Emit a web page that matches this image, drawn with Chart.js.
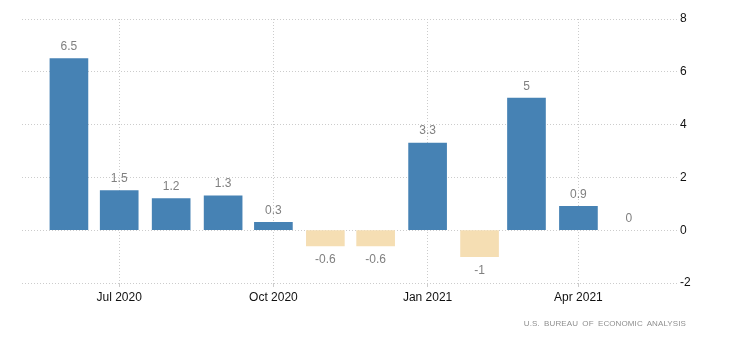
<!DOCTYPE html>
<html>
<head>
<meta charset="utf-8">
<script src="https://cdn.jsdelivr.net/npm/chart.js@4.4.1/dist/chart.umd.min.js"></script>
<style>
    html, body { margin: 0; padding: 0; background: #fff; }
    #wrap { position: relative; width: 730px; height: 344px; }
    #source {
        position: absolute;
        right: 44px;
        top: 319px;
        font-family: 'Liberation Sans', Arial, sans-serif;
        font-size: 8px;
        letter-spacing: 0.1px;
        word-spacing: 2px;
        color: #8f8f8f;
        white-space: nowrap;
    }
</style>
</head>
<body>
<div id="wrap">
    <canvas id="chart" width="730" height="344"></canvas>
    <div id="source">U.S. BUREAU OF ECONOMIC ANALYSIS</div>
</div>
<script>
'use strict';

// months (first day) and monthly values
const months = ['2020-06', '2020-07', '2020-08', '2020-09', '2020-10', '2020-11',
    '2020-12', '2021-01', '2021-02', '2021-03', '2021-04', '2021-05'];
const values = [6.5, 1.5, 1.2, 1.3, 0.3, -0.6, -0.6, 3.3, -1, 5, 0.9, 0];

const tickMonths = ['2020-07', '2020-10', '2021-01', '2021-04'];
const tickLabels = ['Jul 2020', 'Oct 2020', 'Jan 2021', 'Apr 2021'];

const yTicks = [-2, 0, 2, 4, 6, 8];

function dayOf(str) {
    const [y, m] = str.split('-').map(Number);
    return Date.UTC(y, m - 1, 1) / 86400000;
}

const POS_COLOR = '#4682B4';
const NEG_COLOR = '#F5DEB3';
const GRID_COLOR = '#cccccc';

const valueLabels = {
    id: 'valueLabels',
    afterDatasetsDraw(chart) {
        const { ctx } = chart;
        const meta = chart.getDatasetMeta(0);
        ctx.save();
        ctx.font = '12px "Liberation Sans", Arial, sans-serif';
        ctx.fillStyle = '#808080';
        ctx.textAlign = 'center';
        ctx.textBaseline = 'middle';
        meta.data.forEach((bar, i) => {
            const v = values[i];
            const y = v < 0 ? bar.y + 14 : bar.y - 12;
            ctx.fillText(String(v), bar.x, y);
        });
        ctx.restore();
    }
};

const points = months.map((m, i) => ({ x: dayOf(m), y: values[i] }));
const tickDays = tickMonths.map(dayOf);

function barColor(ctx) {
    const v = ctx.parsed ? ctx.parsed.y : 0;
    if (v === 0) return 'rgba(0,0,0,0)';
    return v < 0 ? NEG_COLOR : POS_COLOR;
}

new Chart(document.getElementById('chart'), {
    type: 'bar',
    data: {
        datasets: [{
            data: points,
            backgroundColor: barColor,
            barThickness: 38,
            borderWidth: 0
        }]
    },
    options: {
        responsive: false,
        animation: false,
        layout: { padding: { left: 22, top: 19, right: 0, bottom: 0 } },
        plugins: {
            legend: { display: false },
            tooltip: { enabled: false }
        },
        scales: {
            x: {
                type: 'linear',
                offset: false,
                min: dayOf(months[0]) - 28,
                max: dayOf(months[months.length - 1]) + 30,
                afterBuildTicks(scale) {
                    scale.ticks = tickDays.map((value) => ({ value }));
                },
                afterFit(scale) {
                    scale.height = 61;
                },
                grid: {
                    color: GRID_COLOR,
                    tickLength: 4,
                    offset: false
                },
                border: { display: false, dash: [1, 2] },
                ticks: {
                    autoSkip: false,
                    maxRotation: 0,
                    padding: 3,
                    color: '#111',
                    font: { family: '"Liberation Sans", Arial, sans-serif', size: 12 },
                    callback(value) {
                        const idx = tickDays.indexOf(value);
                        return idx >= 0 ? tickLabels[idx] : '';
                    }
                }
            },
            y: {
                position: 'right',
                min: yTicks[0],
                max: yTicks[yTicks.length - 1],
                afterBuildTicks(scale) {
                    scale.ticks = yTicks.map((value) => ({ value }));
                },
                afterFit(scale) {
                    scale.width = 51;
                },
                grid: {
                    color: GRID_COLOR,
                    drawTicks: false
                },
                border: { display: false, dash: [1, 2] },
                ticks: {
                    padding: 1,
                    color: '#111',
                    font: { family: '"Liberation Sans", Arial, sans-serif', size: 12 }
                }
            }
        }
    },
    plugins: [valueLabels]
});
</script>
</body>
</html>
